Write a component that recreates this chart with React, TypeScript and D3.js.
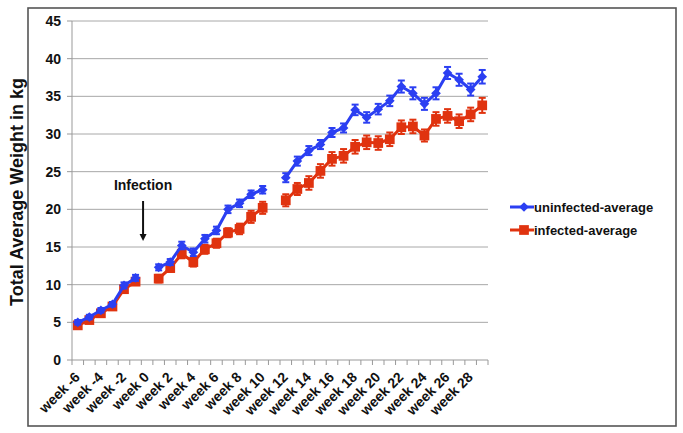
import React, { useEffect, useRef } from "react";
import * as d3 from "d3";

const weeks: number[] = d3.range(-6, 30);
const tickWeeks: number[] = d3.range(-6, 29, 2);
const yTicks: number[] = [0, 5, 10, 15, 20, 25, 30, 35, 40, 45];

const uninfected: (number | null)[] = [
  5.0, 5.7, 6.6, 7.4, 9.9, 10.9, null, 12.3, 13.0, 15.2, 14.3, 16.1, 17.2, 20.0, 20.8, 22.0, 22.6, null,
  24.2, 26.4, 27.8, 28.6, 30.2, 30.8, 33.2, 32.2, 33.3, 34.4, 36.3, 35.4, 34.0, 35.4, 38.1, 37.2, 35.9, 37.6,
];
const uninfectedErr: (number | null)[] = [
  0.3, 0.3, 0.3, 0.3, 0.4, 0.4, null, 0.4, 0.4, 0.5, 0.5, 0.5, 0.5, 0.5, 0.5, 0.5, 0.5, null,
  0.6, 0.6, 0.6, 0.6, 0.6, 0.6, 0.7, 0.7, 0.7, 0.7, 0.8, 0.8, 0.8, 0.8, 0.8, 0.8, 0.8, 0.9,
];
const infected: (number | null)[] = [
  4.6, 5.3, 6.2, 7.1, 9.4, 10.4, null, 10.8, 12.2, 14.1, 13.0, 14.7, 15.5, 16.9, 17.4, 19.0, 20.2, null,
  21.2, 22.7, 23.5, 25.1, 26.7, 27.1, 28.3, 28.9, 28.8, 29.3, 30.9, 31.0, 29.8, 32.0, 32.4, 31.7, 32.6, 33.8,
];
const infectedErr: (number | null)[] = [
  0.3, 0.3, 0.3, 0.3, 0.4, 0.4, null, 0.5, 0.5, 0.6, 0.6, 0.6, 0.6, 0.6, 0.7, 0.8, 0.8, null,
  0.8, 0.8, 0.9, 0.9, 0.9, 0.9, 0.9, 0.9, 0.9, 0.9, 0.9, 0.9, 0.8, 0.9, 0.9, 0.9, 0.9, 1.0,
];

const seriesNames: string[] = ["uninfected-average", "infected-average"];
const infectionWeek = -0.35;

const W = 683;
const H = 433;
const FONT = "'Liberation Sans', Arial, sans-serif";
const BLUE = "#2b3ff2";
const RED = "#e0330f";

export default function App() {
  const ref = useRef<SVGSVGElement>(null);

  useEffect(() => {
    const svg = d3.select(ref.current);
    svg.selectAll("*").remove();

    const left = 72, right = 488, top = 21, bottom = 360;
    const x = d3.scaleBand<number>().domain(weeks).range([left, right]).paddingInner(0).paddingOuter(0);
    const cx = (w: number) => (x(w) as number) + x.bandwidth() / 2;
    const y = d3.scaleLinear().domain([0, 45]).range([bottom, top]);

    svg.append("rect").attr("width", W).attr("height", H).attr("fill", "#fff");
    // frame
    svg.append("rect").attr("x", 28).attr("y", 8).attr("width", 648).attr("height", 418)
      .attr("fill", "none").attr("stroke", "#555").attr("stroke-width", 1.6);

    // gridlines
    svg.append("g").selectAll("line").data(yTicks.filter(t => t > 0)).join("line")
      .attr("x1", left).attr("x2", right).attr("y1", d => y(d)).attr("y2", d => y(d))
      .attr("stroke", "#a8a8a8").attr("stroke-width", 1);

    // y axis
    const ya = svg.append("g");
    ya.append("line").attr("x1", left).attr("x2", left).attr("y1", top).attr("y2", bottom).attr("stroke", "#999");
    ya.selectAll("line.t").data(yTicks).join("line").attr("class", "t")
      .attr("x1", left - 5).attr("x2", left).attr("y1", d => y(d)).attr("y2", d => y(d)).attr("stroke", "#999");
    ya.selectAll("text").data(yTicks).join("text")
      .attr("x", 61).attr("y", d => y(d) + 5).attr("text-anchor", "end")
      .attr("font-family", FONT).attr("font-weight", "bold").attr("font-size", 14).attr("fill", "#111")
      .text(d => String(d));

    // x axis
    const xa = svg.append("g");
    xa.append("line").attr("x1", left).attr("x2", right).attr("y1", bottom).attr("y2", bottom).attr("stroke", "#999");
    const edges = weeks.map(w => x(w) as number).concat([right]);
    xa.selectAll("line.t").data(edges).join("line").attr("class", "t")
      .attr("x1", d => d).attr("x2", d => d).attr("y1", bottom).attr("y2", bottom + 5).attr("stroke", "#999");
    xa.selectAll("text").data(tickWeeks).join("text")
      .attr("transform", d => `translate(${cx(d) + 3},${bottom + 18}) rotate(-45)`)
      .attr("text-anchor", "end")
      .attr("font-family", FONT).attr("font-weight", "bold").attr("font-size", 14).attr("fill", "#111")
      .text(d => `week ${d}`);

    // y title
    svg.append("text")
      .attr("transform", `translate(23,192) rotate(-90)`)
      .attr("text-anchor", "middle")
      .attr("font-family", FONT).attr("font-weight", "bold").attr("font-size", 18).attr("fill", "#111")
      .text("Total Average Weight in kg");

    const drawSeries = (vals: (number | null)[], errs: (number | null)[], color: string, shape: "diamond" | "square") => {
      const g = svg.append("g");
      const pts = weeks.map((w, i) => ({ w, v: vals[i], e: errs[i] }));
      const line = d3.line<{ w: number; v: number | null }>()
        .defined(d => d.v != null)
        .x(d => cx(d.w)).y(d => y(d.v as number));
      g.append("path").datum(pts).attr("d", line as any).attr("fill", "none")
        .attr("stroke", color).attr("stroke-width", 3).attr("stroke-linejoin", "round");
      const valid = pts.filter(d => d.v != null);
      valid.forEach(d => {
        const v = d.v as number, e = (d.e as number) || 0;
        const x0 = cx(d.w);
        g.append("line").attr("x1", x0).attr("x2", x0).attr("y1", y(v - e)).attr("y2", y(v + e))
          .attr("stroke", color).attr("stroke-width", 2);
        [v - e, v + e].forEach(yy => {
          g.append("line").attr("x1", x0 - 3.5).attr("x2", x0 + 3.5).attr("y1", y(yy)).attr("y2", y(yy))
            .attr("stroke", color).attr("stroke-width", 2);
        });
      });
      const sym = shape === "diamond" ? d3.symbol().type(d3.symbolDiamond2).size(60) : d3.symbol().type(d3.symbolSquare).size(95);
      g.selectAll("path.m").data(valid).join("path").attr("class", "m")
        .attr("d", sym as any).attr("transform", d => `translate(${cx(d.w)},${y(d.v as number)})`)
        .attr("fill", color);
    };
    drawSeries(infected, infectedErr, RED, "square");
    drawSeries(uninfected, uninfectedErr, BLUE, "diamond");

    // annotation
    const ax = cx(0) + infectionWeek * x.bandwidth();
    svg.append("text").attr("x", ax).attr("y", 190).attr("text-anchor", "middle")
      .attr("font-family", FONT).attr("font-weight", "bold").attr("font-size", 14).attr("fill", "#111")
      .text("Infection");
    svg.append("line").attr("x1", ax).attr("x2", ax).attr("y1", 201).attr("y2", 236)
      .attr("stroke", "#111").attr("stroke-width", 2);
    svg.append("path").attr("d", `M${ax - 3.5},${234} L${ax + 3.5},${234} L${ax},${241} Z`).attr("fill", "#111");

    // legend
    const legend = [
      { name: seriesNames[0], color: BLUE, shape: "diamond", y: 207 },
      { name: seriesNames[1], color: RED, shape: "square", y: 230 },
    ];
    legend.forEach(l => {
      svg.append("line").attr("x1", 510).attr("x2", 534).attr("y1", l.y).attr("y2", l.y)
        .attr("stroke", l.color).attr("stroke-width", 3);
      const sym = l.shape === "diamond" ? d3.symbol().type(d3.symbolDiamond2).size(60) : d3.symbol().type(d3.symbolSquare).size(95);
      svg.append("path").attr("d", sym as any).attr("transform", `translate(524,${l.y})`).attr("fill", l.color);
      svg.append("text").attr("x", 534).attr("y", l.y + 4.5)
        .attr("font-family", FONT).attr("font-weight", "bold").attr("font-size", 13).attr("fill", "#111")
        .text(l.name);
    });
  }, []);

  return (
    <div style={{ position: "absolute", left: 0, top: 0 }}>
      <svg ref={ref} width={W} height={H} style={{ display: "block" }} />
    </div>
  );
}
